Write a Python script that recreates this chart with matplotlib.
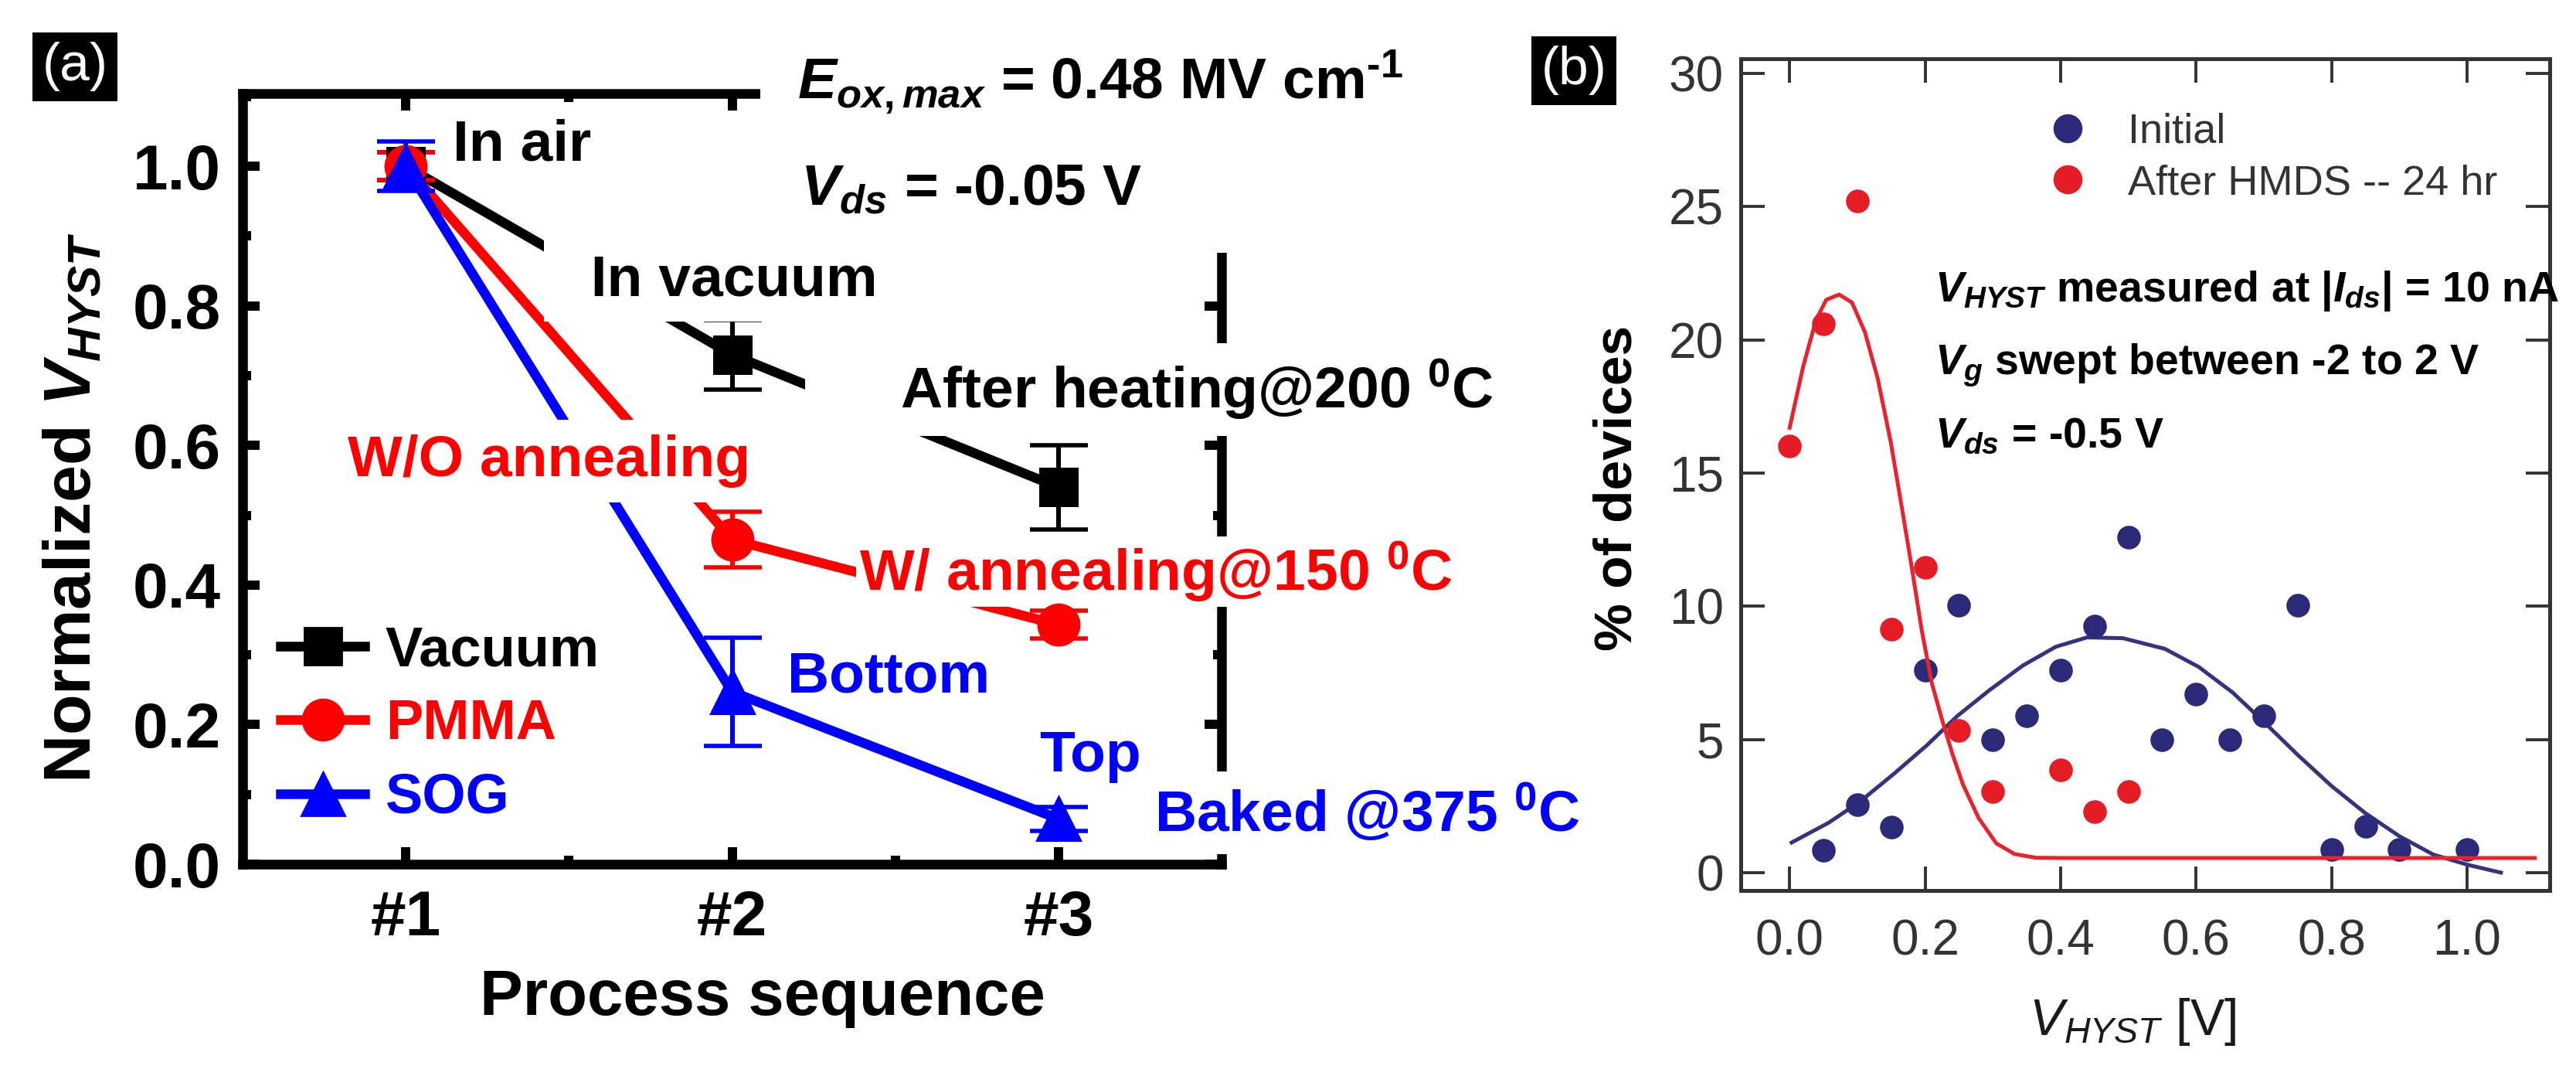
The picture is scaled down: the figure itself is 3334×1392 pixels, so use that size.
import matplotlib
matplotlib.use("Agg")
import matplotlib.pyplot as plt
from matplotlib.ticker import FixedLocator, MultipleLocator, FormatStrFormatter

plt.rcParams["font.family"] = "Liberation Sans"
plt.rcParams["mathtext.fontset"] = "custom"
plt.rcParams["mathtext.rm"] = "Liberation Sans:bold"
plt.rcParams["mathtext.it"] = "Liberation Sans:italic:bold"
plt.rcParams["mathtext.bf"] = "Liberation Sans:bold"
plt.rcParams["mathtext.sf"] = "Liberation Sans:italic"

# panel (a): normalized V_HYST along the process sequence
steps = [1, 2, 3]
step_labels = ["#1", "#2", "#3"]
vacuum = [1.0, 0.73, 0.54]
vacuum_err = [0.02, 0.05, 0.06]
pmma = [1.0, 0.465, 0.343]
pmma_err = [0.02, 0.04, 0.02]
sog = [1.0, 0.247, 0.065]
sog_err = [0.035, 0.077, 0.017]

# panel (b): distribution of V_HYST (% of devices)
initial_x = [0.05, 0.10, 0.15, 0.20, 0.25, 0.30, 0.35, 0.40, 0.45, 0.50,
             0.55, 0.60, 0.65, 0.70, 0.75, 0.80, 0.85, 0.90, 1.00]
initial_y = [0.85, 2.55, 1.7, 7.6, 10.05, 5.0, 5.9, 7.6, 9.25, 12.6,
             5.0, 6.7, 5.0, 5.9, 10.05, 0.87, 1.74, 0.87, 0.87]
hmds_x = [0.0, 0.05, 0.10, 0.15, 0.20, 0.25, 0.30, 0.40, 0.45, 0.50]
hmds_y = [16.0, 20.6, 25.2, 9.15, 11.45, 5.35, 3.05, 3.85, 2.3, 3.05]

initial_fit_x = [0.003, 0.058, 0.104, 0.153, 0.203, 0.248, 0.294, 0.344, 0.393,
                 0.439, 0.492, 0.554, 0.604, 0.654, 0.70, 0.75, 0.80, 0.85,
                 0.90, 0.95, 1.00, 1.05]
initial_fit_y = [1.13, 1.88, 2.67, 3.69, 4.79, 5.89, 6.83, 7.77, 8.48,
                 8.83, 8.80, 8.4, 7.72, 6.76, 5.66, 4.42, 3.25, 2.23,
                 1.37, 0.68, 0.3, 0.0]
hmds_fit_x = [0.0, 0.02, 0.039, 0.054, 0.073, 0.092, 0.111, 0.130, 0.149, 0.165,
              0.180, 0.195, 0.210, 0.226, 0.241, 0.256, 0.279, 0.305, 0.332,
              0.363, 0.40, 0.46, 0.70, 1.10]
hmds_fit_y = [16.7, 19.0, 20.75, 21.5, 21.7, 21.4, 20.3, 18.55, 16.2, 13.8,
              11.5, 9.1, 7.1, 5.65, 4.4, 3.3, 2.05, 1.1, 0.7,
              0.56, 0.55, 0.55, 0.55, 0.55]

RED = "#ff0000"
BLUE = "#0000ff"
NAVY = "#2b2a78"
DOTRED = "#e41c26"
GREY = "#333333"

fig = plt.figure(figsize=(16.67, 6.96), dpi=200)

# ---------------- (a)
ax = fig.add_axes([0.0942, 0.1968, 0.3800, 0.7162])
series = [("Vacuum", vacuum, vacuum_err, "black", "s", 17.5),
          ("PMMA", pmma, pmma_err, RED, "o", 19),
          ("SOG", sog, sog_err, BLUE, "^", 20)]
for name, vals, err, col, mk, ms in series:
    ax.errorbar(steps, vals, yerr=err, fmt="none", ecolor=col,
                elinewidth=2.2, capsize=13.5, capthick=2)
    ax.plot(steps, vals, color=col, lw=4.5, marker=mk, ms=ms, mec=col,
            label=name)
# markers again above the white label boxes (the boxes only hide the lines)
for name, vals, err, col, mk, ms in series:
    ax.plot(steps, vals, ls="none", marker=mk, ms=ms, color=col, mec=col,
            zorder=5)

ax.set_xlim(0.5, 3.5)
ax.set_ylim(0, 1.104)
ax.set_xticks(steps, step_labels)
ax.xaxis.set_minor_locator(FixedLocator([1.5, 2.5]))
ax.yaxis.set_major_locator(MultipleLocator(0.2))
ax.yaxis.set_minor_locator(MultipleLocator(0.1))
ax.yaxis.set_major_formatter(FormatStrFormatter("%.1f"))
for sp in ax.spines.values():
    sp.set_linewidth(4.5)
ax.tick_params(which="both", direction="in", top=True, right=True,
               width=4.3, labelsize=29.5)
ax.tick_params(which="major", length=8)
ax.tick_params(which="minor", length=4)
ax.tick_params(axis="x", pad=12)
ax.tick_params(axis="y", pad=10)
for lab in ax.get_xticklabels() + ax.get_yticklabels():
    lab.set_fontweight("bold")

ax.legend(loc="upper left", bbox_to_anchor=(0.0387, 0.311), frameon=False,
          borderaxespad=0, borderpad=0, handlelength=1.51,
          handletextpad=0.37, labelspacing=0.38,
          prop={"weight": "bold", "size": 26}, labelcolor="linecolor")

lbl = dict(fontsize=27, fontweight="bold", va="baseline", ha="left", zorder=4)
white = dict(boxstyle="square,pad=0.25", fc="white", ec="none")
tight = dict(boxstyle="square,pad=0.05", fc="white", ec="none")
ax.text(1.143, 1.008, "In air", color="black", **lbl)
ax.text(1.4685, 0.815, "  In vacuum", color="black", bbox=white, **lbl)
ax.text(2.269, 0.653, "     After heating@200 $^{0}$C", color="black",
        bbox=white, **lbl)
ax.text(0.822, 0.556, "W/O annealing", color=RED, bbox=white, **lbl)
ax.text(2.39, 0.3924, "W/ annealing@150 $^{0}$C", color=RED, bbox=tight, **lbl)
ax.text(2.17, 0.246, "Bottom", color=BLUE, **lbl)
ax.text(2.941, 0.133, "Top", color=BLUE, **lbl)
ax.text(3.294, 0.0465, "Baked @375 $^{0}$C", color=BLUE,
        bbox=dict(boxstyle="square,pad=0.18", fc="white", ec="none"), **lbl)

cond = dict(fontsize=27, fontweight="bold", va="baseline", ha="left",
            clip_on=False,
            bbox=dict(boxstyle="square,pad=0.64", fc="white", ec="none"))
ax.text(2.2, 1.097, r"$E_{ox,max}$ = 0.48 MV cm$^{\text{-1}}$", zorder=3.5, **cond)
ax.text(2.21, 0.9453, r"$V_{ds}$ = -0.05 V      ", zorder=3.2, **cond)

fig.text(0.0285, 0.528, r"Normalized $V_{HYST}$", rotation=90, ha="center",
         va="center", fontsize=31, fontweight="bold")
fig.text(0.296, 0.0567, "Process sequence", ha="center", va="baseline",
         fontsize=30, fontweight="bold")
fig.text(0.02924, 0.9379, "(a)", color="white", fontsize=25, ha="center",
         va="center", bbox=dict(boxstyle="square,pad=0.18", fc="black", ec="none"))

# ---------------- (b)
bx = fig.add_axes([0.6758, 0.1724, 0.3140, 0.7730])
bx.plot(initial_fit_x, initial_fit_y, color="#35337f", lw=1.8)
bx.plot(initial_x, initial_y, ls="none", marker="o", ms=10, color=NAVY,
        label="Initial")
bx.plot(hmds_fit_x, hmds_fit_y, color="#e8232c", lw=1.8)
bx.plot(hmds_x, hmds_y, ls="none", marker="o", ms=10, color=DOTRED,
        label="After HMDS -- 24 hr")

bx.set_xlim(-0.072, 1.122)
bx.set_ylim(-0.67, 30.55)
bx.xaxis.set_major_locator(MultipleLocator(0.2))
bx.xaxis.set_major_formatter(FormatStrFormatter("%.1f"))
bx.yaxis.set_major_locator(MultipleLocator(5))
for sp in bx.spines.values():
    sp.set_linewidth(1.8)
    sp.set_color(GREY)
bx.tick_params(direction="in", top=True, right=True, length=11, width=1.4,
               color=GREY, labelcolor=GREY, labelsize=23)
bx.tick_params(axis="x", pad=13)
bx.tick_params(axis="y", pad=8)

bx.legend(loc="upper left", bbox_to_anchor=(0.3778, 0.935), frameon=False,
          borderaxespad=0, borderpad=0, handlelength=1.0, handletextpad=0.95,
          labelspacing=0.30, fontsize=19.5, markerscale=1.25, labelcolor=GREY)

note = dict(fontsize=20, fontweight="bold", ha="left", va="baseline")
bx.text(0.2143, 21.45, r"$V_{HYST}$ measured at |$I_{ds}$| = 10 nA", **note)
bx.text(0.2143, 18.7, r"$V_{g}$ swept between -2 to 2 V", **note)
bx.text(0.2143, 15.96, r"$V_{ds}$ = -0.5 V", **note)

fig.text(0.628, 0.5467, "% of devices", rotation=90, ha="center", va="center",
         fontsize=25, fontweight="bold")
fig.text(0.8278, 0.0381, r"$\mathsf{V}_{\mathsf{HYST}}$ [V]", ha="center",
         va="baseline", fontsize=24, color="#1a1a1a")
fig.text(0.6111, 0.9346, "(b)", color="white", fontsize=25, ha="center",
         va="center", bbox=dict(boxstyle="square,pad=0.18", fc="black", ec="none"))

fig.savefig("out.png", dpi=200, facecolor="white")
